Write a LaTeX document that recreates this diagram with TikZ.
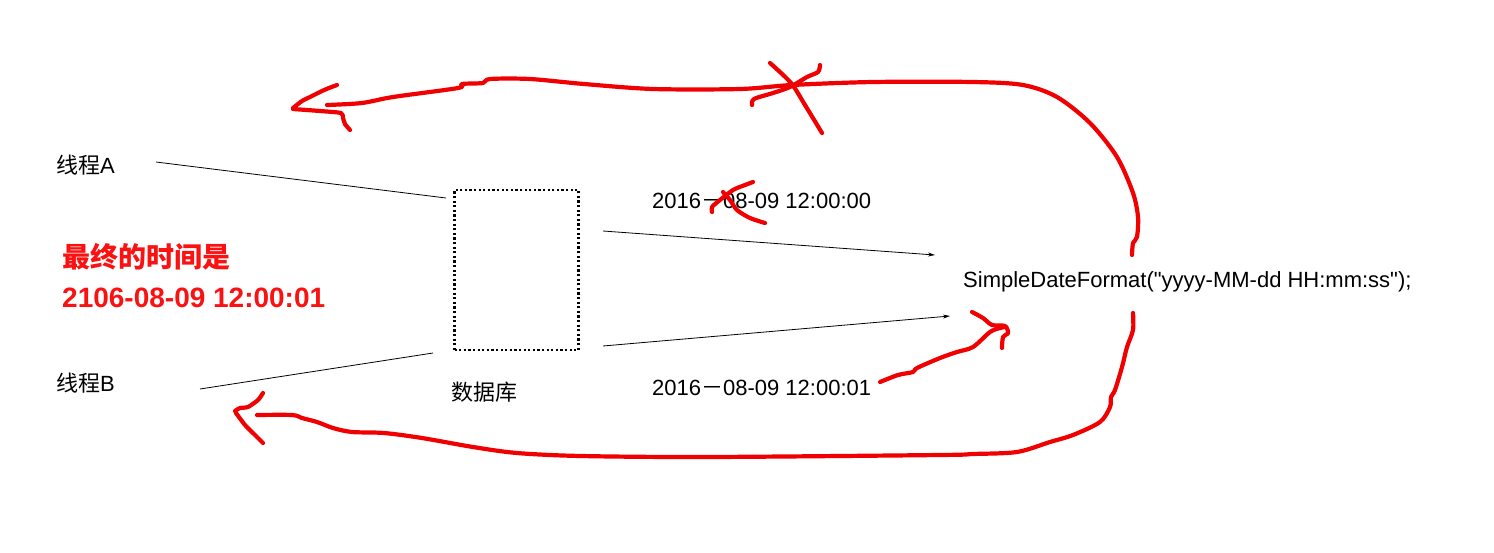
\documentclass[tikz,border=0pt]{standalone}
\usepackage{fontspec}
\setmainfont{Liberation Sans}
\newfontfamily\straightsans{Liberation Sans}[Ligatures=TeXOff]
\newfontfamily\cjk{Noto Sans CJK SC}
\usetikzlibrary{arrows.meta}
\definecolor{pen}{RGB}{240,0,0}
\definecolor{txtred}{RGB}{250,18,18}
\begin{document}
\begin{tikzpicture}[x=1pt,y=-1pt,
  lbl/.style={inner sep=0pt, anchor=base west, font=\fontsize{22}{26}\selectfont},
  redlbl/.style={inner sep=0pt, anchor=base west, text=txtred, font=\fontsize{28}{32}\selectfont\bfseries},
  plain/.style={line width=0.8pt},
  flow/.style={line width=0.8pt, -{Stealth[length=7pt,width=4pt]}},
  pen stroke/.style={draw=pen, line width=4.2pt, line cap=round, line join=round},
  dbbox/.style={draw, line width=2.2pt, dash pattern=on 2.2pt off 2.4pt,
    minimum width=124pt, minimum height=160pt, inner sep=0pt}
]
\useasboundingbox (0,0) rectangle (1494,552);

% nodes
\node[dbbox] (db) at (516.5,270) {};
\node[lbl] (ta) at (56,173) {{\cjk 线程}A};
\node[lbl] (tb) at (56,391) {{\cjk 线程}B};
\node[lbl] (dbl) at (451,400) {\cjk 数据库};
\node[lbl] (d1) at (652,208) {2016{\cjk －}08-09 12:00:00};
\node[lbl] (d2) at (652,395) {2016{\cjk －}08-09 12:00:01};
\node[lbl] (sdf) at (963,287) {\straightsans SimpleDateFormat("yyyy-MM-dd HH:mm:ss");};
\node[redlbl] (r1) at (62,267) {\cjk 最终的时间是};
\node[redlbl] (r2) at (62,307) {2106-08-09 12:00:01};

% connector end points
\coordinate (a1) at (156,162);
\coordinate (a2) at (446,198);
\coordinate (b1) at (200,389);
\coordinate (b2) at (433,353);
\coordinate (u1) at (603,231);
\coordinate (u2) at (935,255);
\coordinate (l1) at (603,346);
\coordinate (l2) at (950,316);

\draw[plain] (a1) -- (a2);
\draw[plain] (b1) -- (b2);
\draw[flow] (u1) -- (u2);
\draw[flow] (l1) -- (l2);

% red hand-drawn strokes
\draw[pen stroke] plot[smooth,tension=0.5] coordinates {(1132,255) (1133,243) (1137,237) (1138,217) (1133,193) (1117,157) (1090,123) (1057,97) (1023,85) (973,82) (873,82) (792,85) (740,89) (653,89) (584,84) (530,79) (490,79) (483,83) (462,84) (458,88) (393,97) (362,103) (327,105)};
\draw[pen stroke] plot[smooth,tension=0.4] coordinates {(337,85) (329,88) (322,91) (310,97) (302,101) (293,108)};
\draw[pen stroke] plot[smooth,tension=0.4] coordinates {(293,109) (320,111) (341,113) (343,118) (345,124) (350,130)};
\draw[pen stroke] plot[smooth,tension=0.5] coordinates {(770,63) (791,83) (805,105) (822,133)};
\draw[pen stroke] plot[smooth,tension=0.5] coordinates {(752,105) (754,99) (773,93) (790,87) (807,77) (818,72) (820,65)};

\draw[pen stroke] plot[smooth,tension=0.5] coordinates {(1133,313) (1133,330) (1127,347) (1122,367) (1115,390) (1111,397) (1110,407) (1100,422) (1073,435) (1050,442) (1017,452) (973,454) (940,455) (708,457) (581,456) (517,453) (473,447) (422,438) (384,433) (352,432) (333,428) (317,422) (302,418) (292,415) (257,415)};
\draw[pen stroke] plot[smooth,tension=0.4] coordinates {(263,393) (258,400) (248,407) (240,408) (235,411)};
\draw[pen stroke] plot[smooth,tension=0.4] coordinates {(236,413) (245,425) (255,435) (263,443)};

\draw[pen stroke] plot[smooth,tension=0.5] coordinates {(880,382) (898,375) (913,372) (917,368) (940,358) (957,352) (973,347) (990,332) (1000,328) (1005,327)};
\draw[pen stroke] plot[smooth,tension=0.5] coordinates {(972,312) (983,318) (992,325) (1005,326) (1008,333) (1003,337) (1002,348)};

\draw[pen stroke] plot[smooth,tension=0.5] coordinates {(753,182) (745,185) (733,190) (720,200) (712,207) (712,212)};
\draw[pen stroke] plot[smooth,tension=0.5] coordinates {(723,192) (730,200) (737,210) (750,218) (765,223)};
\end{tikzpicture}
\end{document}
